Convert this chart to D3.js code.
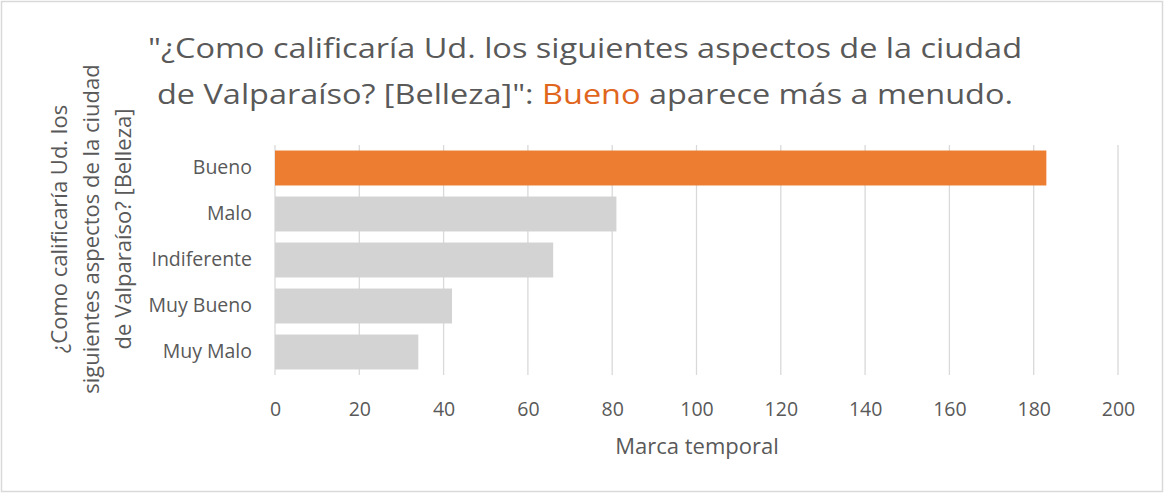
<!DOCTYPE html>
<html>
<head>
<meta charset="utf-8">
<script src="https://cdn.jsdelivr.net/npm/d3@7"></script>
<style>
  body { margin: 0; background: #fff; }
  svg text { font-family: "Open Sans", "Noto Sans", sans-serif; fill: #595959; }
</style>
</head>
<body>
<div id="chart"></div>
<script>
// chart data
const categories = ["Bueno", "Malo", "Indiferente", "Muy Bueno", "Muy Malo"];
const counts = [183, 81, 66, 42, 34];
const xTicks = [0, 20, 40, 60, 80, 100, 120, 140, 160, 180, 200];
const highlight = "Bueno";

const titleLine1 = "\"¿Como calificaría Ud. los siguientes aspectos de la ciudad";
const titleLine2a = "de Valparaíso? [Belleza]\": ";
const titleLine2b = "Bueno";
const titleLine2c = " aparece más a menudo.";
const yTitleLines = ["¿Como calificaría Ud. los", "siguientes aspectos de la ciudad", "de Valparaíso? [Belleza]"];
const xTitle = "Marca temporal";

const width = 1165, height = 493;
const margin = { top: 145, left: 275, right: 47, bottom: 118 };

let svg = d3.select("#chart").append("svg")
    .attr("width", width)
    .attr("height", height);

// outer chart border
svg.append("rect")
    .attr("x", 1.5).attr("y", 1.5)
    .attr("width", width - 4).attr("height", height - 3)
    .attr("fill", "#fff")
    .attr("stroke", "#d9d9d9")
    .attr("stroke-width", 1.5);

let x = d3.scaleLinear()
    .domain([0, 200])
    .range([margin.left, width - margin.right]);

let y = d3.scaleBand()
    .domain(categories)
    .range([margin.top, height - margin.bottom])
    .paddingInner(0.24)
    .paddingOuter(0.12);

// gridlines
svg.append("g")
    .selectAll("line")
    .data(xTicks)
    .enter()
    .append("line")
    .attr("x1", d => x(d)).attr("x2", d => x(d))
    .attr("y1", margin.top).attr("y2", height - margin.bottom)
    .attr("stroke", "#d9d9d9")
    .attr("stroke-width", 1.3);

// bars
svg.append("g")
    .selectAll("rect")
    .data(categories)
    .enter()
    .append("rect")
    .attr("x", x(0))
    .attr("y", d => y(d))
    .attr("width", (d, i) => x(counts[i]) - x(0))
    .attr("height", y.bandwidth())
    .attr("fill", d => d === highlight ? "#ED7D31" : "#D3D3D3");

// x axis (labels only)
let xAxis = svg.append("g")
    .attr("transform", "translate(0," + (height - margin.bottom) + ")")
    .call(d3.axisBottom(x).tickValues(xTicks).tickSize(0).tickPadding(27));
xAxis.select(".domain").remove();
xAxis.selectAll("text")
    .style("font-size", "19.5px")
    .attr("fill", "#595959");

// y axis (labels only)
let yAxis = svg.append("g")
    .attr("transform", "translate(" + margin.left + ",0)")
    .call(d3.axisLeft(y).tickSize(0).tickPadding(23));
yAxis.select(".domain").remove();
yAxis.selectAll("text")
    .style("font-size", "19.5px")
    .attr("fill", "#595959");

// x title
svg.append("text")
    .attr("x", 697)
    .attr("y", 454)
    .attr("text-anchor", "middle")
    .style("font-size", "22px")
    .text(xTitle);

// y title, three rotated lines
let yTitle = svg.append("text")
    .attr("transform", "translate(0,229) rotate(-90)")
    .attr("text-anchor", "middle")
    .style("font-size", "22px");
yTitleLines.forEach(function (line, i) {
    yTitle.append("tspan")
        .attr("x", 0)
        .attr("y", 67 + i * 32)
        .text(line);
});

// chart title
let t1 = svg.append("text")
    .attr("x", 585).attr("y", 58)
    .attr("text-anchor", "middle")
    .style("font-size", "27px")
    .attr("textLength", 874)
    .attr("lengthAdjust", "spacingAndGlyphs")
    .text(titleLine1);

let t2 = svg.append("text")
    .attr("x", 585).attr("y", 104)
    .attr("text-anchor", "middle")
    .style("font-size", "27px")
    .attr("textLength", 856)
    .attr("lengthAdjust", "spacingAndGlyphs");
t2.append("tspan").text(titleLine2a);
t2.append("tspan").style("fill", "#E0661E").text(titleLine2b);
t2.append("tspan").text(titleLine2c);
</script>
</body>
</html>
